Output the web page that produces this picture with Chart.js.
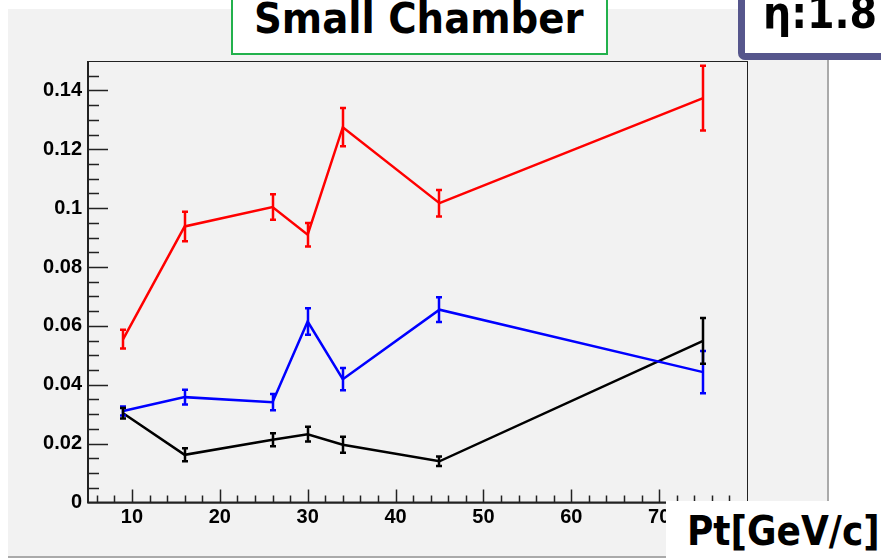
<!DOCTYPE html>
<html>
<head>
<meta charset="utf-8">
<script src="https://cdn.jsdelivr.net/npm/chart.js@4"></script>
<style>
  html, body { margin: 0; padding: 0; background: #fff; overflow: hidden; }
  #pad { position: absolute; left: 8px; top: 9px; width: 819px; height: 547px;
         background: #f2f2f2; border-right: 2px solid #aaa; border-bottom: 2px solid #aaa; }
  #c { position: absolute; left: 0; top: 0; }
  .box { position: absolute; background: #fff; color: #000; white-space: nowrap;
         font-family: "DejaVu Sans Condensed", "DejaVu Sans", sans-serif; font-stretch: condensed; font-weight: bold; }
  #title { left: 231px; top: -12px; width: 373px; height: 63px; border: 2px solid #22b14c; }
  #title span { position: absolute; left: 21px; top: 7px; font-size: 43px; line-height: 43px; }
  #eta { left: 738px; top: -12px; width: 150px; height: 58px; border: 7px solid #56568c; border-radius: 7px; }
  #eta span { position: absolute; left: 18px; top: -4px; font-size: 44px; line-height: 44px; }
  #pt { left: 666px; top: 501px; width: 215px; height: 57px; }
  #pt span { position: absolute; left: 21px; top: 10px; font-size: 40px; line-height: 40px; }
</style>
</head>
<body>
<div id="pad"></div>
<canvas id="c" width="881" height="558"></canvas>
<div class="box" id="title"><span>Small Chamber</span></div>
<div class="box" id="eta"><span>η:1.8</span></div>
<div class="box" id="pt"><span>Pt[GeV/c]</span></div>
<script>
// Pt bin centres
const ptBins = [9, 16, 26, 30, 34, 45, 75];

// three curves with their errors
const redVals = [0.0555, 0.0938, 0.1004, 0.0910, 0.1275, 0.1017, 0.1374];
const redErr = [0.0032, 0.0050, 0.0043, 0.0040, 0.0065, 0.0045, 0.0110];
const blueVals = [0.0311, 0.0358, 0.0341, 0.0615, 0.0419, 0.0655, 0.0443];
const blueErr = [0.0015, 0.0025, 0.0028, 0.0045, 0.0038, 0.0042, 0.0072];
const blackVals = [0.0303, 0.0162, 0.0213, 0.0232, 0.0196, 0.0140, 0.0549];
const blackErr = [0.0018, 0.0022, 0.0022, 0.0025, 0.0027, 0.0016, 0.0078];

// axis ticks
const xTicks = [10, 20, 30, 40, 50, 60, 70];
const yTicks = [0, 0.02, 0.04, 0.06, 0.08, 0.1, 0.12, 0.14];

function makeSet(vals, errs, color) {
    return {
        data: ptBins.map((x, i) => ({ x: x, y: vals[i] })),
        errors: errs,
        borderColor: color,
        backgroundColor: color,
        borderWidth: 2.5,
        pointRadius: 0,
        tension: 0
    };
}

// frame with ROOT style ticks drawn inwards
const framePlugin = {
    id: "frame",
    beforeDatasetsDraw(chart) {
        const ctx = chart.ctx;
        const a = chart.chartArea;
        const xs = chart.scales.x;
        const ys = chart.scales.y;
        ctx.save();
        ctx.strokeStyle = "#222";
        ctx.lineWidth = 1;
        ctx.strokeRect(a.left + 0.5, a.top + 0.5, a.right - a.left, a.bottom - a.top);
        ctx.lineWidth = 2;
        ctx.beginPath();
        ctx.moveTo(a.left, a.top);
        ctx.lineTo(a.left, a.bottom);
        ctx.lineTo(a.right, a.bottom);
        ctx.stroke();

        ctx.lineWidth = 1.5;
        ctx.beginPath();
        for (let v = 6; v < 80; v += 2) {
            const px = Math.round(xs.getPixelForValue(v)) + 0.5;
            const len = v % 10 === 0 ? 13 : 7;
            ctx.moveTo(px, a.bottom);
            ctx.lineTo(px, a.bottom - len);
        }
        for (let k = 1; k < 30; k++) {
            const py = Math.round(ys.getPixelForValue(k * 0.005)) + 0.5;
            const len = k % 4 === 0 ? 20 : 11;
            ctx.moveTo(a.left, py);
            ctx.lineTo(a.left + len, py);
        }
        ctx.stroke();
        ctx.restore();
    },
    afterDatasetsDraw(chart) {
        const ctx = chart.ctx;
        const xs = chart.scales.x;
        const ys = chart.scales.y;
        ctx.save();
        chart.data.datasets.forEach(ds => {
            ctx.strokeStyle = ds.borderColor;
            ctx.lineWidth = 2.5;
            ctx.beginPath();
            ds.data.forEach((p, i) => {
                const px = Math.round(xs.getPixelForValue(p.x));
                const y1 = ys.getPixelForValue(p.y + ds.errors[i]);
                const y2 = ys.getPixelForValue(p.y - ds.errors[i]);
                ctx.moveTo(px, y1);
                ctx.lineTo(px, y2);
                ctx.moveTo(px - 3, y1);
                ctx.lineTo(px + 3, y1);
                ctx.moveTo(px - 3, y2);
                ctx.lineTo(px + 3, y2);
            });
            ctx.stroke();
        });
        ctx.restore();
    }
};

const tickFont = { family: "'Liberation Sans', Arial, sans-serif", size: 20, weight: "bold" };

new Chart(document.getElementById("c"), {
    type: "line",
    data: {
        datasets: [
            makeSet(redVals, redErr, "#ff0000"),
            makeSet(blueVals, blueErr, "#0000ff"),
            makeSet(blackVals, blackErr, "#000000")
        ]
    },
    options: {
        responsive: false,
        animation: false,
        devicePixelRatio: 1,
        layout: { padding: { left: 0, top: 61, right: 134, bottom: 15.5 } },
        plugins: { legend: { display: false }, tooltip: { enabled: false } },
        scales: {
            x: {
                type: "linear",
                min: 5,
                max: 80,
                afterFit: s => { s.height = 40; },
                afterBuildTicks: s => { s.ticks = xTicks.map(v => ({ value: v })); },
                grid: { display: false, drawTicks: false },
                border: { display: false },
                ticks: { color: "#000", font: tickFont, padding: 3, maxRotation: 0 }
            },
            y: {
                min: 0,
                max: 0.15,
                afterFit: s => { s.width = 88; },
                afterBuildTicks: s => { s.ticks = yTicks.map(v => ({ value: v })); },
                grid: { display: false, drawTicks: false },
                border: { display: false },
                ticks: {
                    color: "#000",
                    font: tickFont,
                    padding: 6,
                    callback: v => String(+v.toFixed(2))
                }
            }
        }
    },
    plugins: [framePlugin]
});
</script>
</body>
</html>
